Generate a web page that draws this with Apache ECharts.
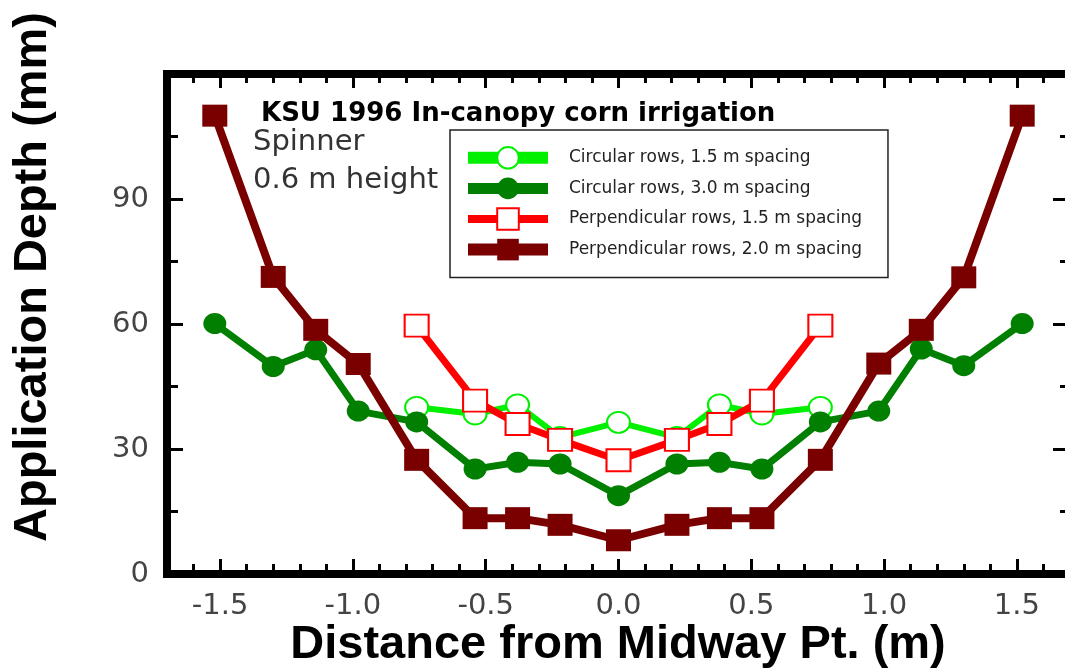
<!DOCTYPE html>
<html>
<head>
<meta charset="utf-8">
<title>KSU 1996 In-canopy corn irrigation</title>
<script src="https://cdn.jsdelivr.net/npm/echarts@6/dist/echarts.min.js"></script>
<style>
html, body { margin: 0; padding: 0; background: #fff; }
#chart { width: 1065px; height: 670px; }
</style>
</head>
<body>
<div id="chart"></div>
<script>
// distances (m) where depth was measured
var distAll = [-1.52, -1.30, -1.14, -0.98, -0.76, -0.54, -0.38, -0.22, 0, 0.22, 0.38, 0.54, 0.76, 0.98, 1.14, 1.30, 1.52];
var distInner = [-0.76, -0.54, -0.38, -0.22, 0, 0.22, 0.38, 0.54, 0.76];

// application depth (mm)
var circ15 = [40.0, 38.4, 40.6, 32.8, 36.4, 32.8, 40.6, 38.4, 40.0];
var circ30 = [60.1, 49.8, 53.8, 39.1, 36.5, 25.2, 26.8, 26.4, 18.8, 26.4, 26.8, 25.2, 36.5, 39.1, 54.0, 50.0, 60.1];
var perp15 = [59.6, 41.6, 36.0, 32.2, 27.3, 32.2, 36.0, 41.6, 59.6];
var perp20 = [110.0, 71.3, 58.6, 50.4, 27.4, 13.4, 13.4, 11.8, 8.1, 11.8, 13.4, 13.4, 27.4, 50.5, 58.6, 71.2, 110.0];

var seriesNames = [
	'Circular rows, 1.5 m spacing',
	'Circular rows, 3.0 m spacing',
	'Perpendicular rows, 1.5 m spacing',
	'Perpendicular rows, 2.0 m spacing'
];
var colors = ['#00f000', '#007f00', '#ff0000', '#7a0000'];

// axis ticks
var xMajor = [-1.5, -1.0, -0.5, 0.0, 0.5, 1.0, 1.5];
var xMinor = [];
for (var i = -16; i <= 16; i++) {
	if (i % 5 != 0) xMinor.push(i / 10);
}
var yLabels = [0, 30, 60, 90];

function pairs(xs, ys) {
	var out = [];
	for (var i = 0; i < xs.length; i++) out.push([xs[i], ys[i]]);
	return out;
}

var chart = echarts.init(document.getElementById('chart'));

var frame = { show: true, onZero: false, lineStyle: { color: '#000', width: 8, cap: 'square' } };
var noLine = { show: false, onZero: false };
var tickStyle = { color: '#000', width: 3 };
var labelFont = { fontFamily: 'DejaVu Sans', fontSize: 29, color: '#444' };
var nameFont = { fontFamily: 'Liberation Sans', fontWeight: 'bold', fontSize: 47, fill: '#000' };

function xAxisDef(pos, line, ticks, len, labels) {
	return {
		type: 'value', position: pos, min: -1.7, max: 1.7,
		axisLine: line ? frame : noLine,
		splitLine: { show: false },
		axisTick: { show: true, inside: true, length: len, lineStyle: tickStyle, customValues: ticks },
		axisLabel: labels ? Object.assign({ show: true, customValues: xMajor, margin: 18,
			formatter: function (v) { return v.toFixed(1); } }, labelFont) : { show: false }
	};
}
function yAxisDef(pos, len, minorLen, labels) {
	return {
		type: 'value', position: pos, min: 0, max: 120, interval: 30,
		axisLine: frame,
		splitLine: { show: false },
		axisTick: { show: true, inside: true, length: len, lineStyle: tickStyle },
		minorTick: { show: true, splitNumber: 2, length: minorLen, lineStyle: tickStyle },
		minorSplitLine: { show: false },
		axisLabel: labels ? Object.assign({ show: true, customValues: yLabels, margin: 18 }, labelFont) : { show: false }
	};
}

var legendData = [];
var legendWidths = [12, 11, 8, 12];
for (var k = 0; k < seriesNames.length; k++) {
	legendData.push({ name: seriesNames[k], lineStyle: { width: legendWidths[k] } });
}

var option = {
	animation: false,
	backgroundColor: '#fff',
	title: [{
		text: 'KSU 1996 In-canopy corn irrigation',
		left: 256, top: 96,
		textStyle: { fontFamily: 'DejaVu Sans', fontWeight: 'bold', fontSize: 26, color: '#000' }
	}, {
		text: 'Spinner',
		left: 248, top: 123,
		textStyle: { fontFamily: 'DejaVu Sans', fontWeight: 'normal', fontSize: 29, color: '#333' }
	}, {
		text: '0.6 m height',
		left: 248, top: 161,
		textStyle: { fontFamily: 'DejaVu Sans', fontWeight: 'normal', fontSize: 29, color: '#333' }
	}],
	grid: { left: 167, right: -5, top: 74, bottom: 96, containLabel: false, outerBoundsMode: 'none' },
	legend: {
		data: legendData,
		orient: 'vertical',
		left: 450, top: 130,
		padding: [16, 26, 17, 12],
		itemWidth: 80, itemHeight: 27, itemGap: 8,
		borderColor: '#222', borderWidth: 1.5,
		backgroundColor: '#fff',
		textStyle: { fontFamily: 'DejaVu Sans', fontSize: 17, color: '#222', padding: [0, 0, 0, 16] }
	},
	graphic: [{
		type: 'text',
		x: 33, y: 277, rotation: Math.PI / 2,
		style: Object.assign({ text: 'Application Depth (mm)', align: 'center', verticalAlign: 'middle' }, nameFont)
	}, {
		type: 'text',
		x: 618, y: 645,
		style: Object.assign({ text: 'Distance from Midway Pt. (m)', align: 'center', verticalAlign: 'middle' }, nameFont)
	}],
	xAxis: [
		xAxisDef('bottom', true, xMajor, 15, true),
		xAxisDef('bottom', false, xMinor, 10, false),
		xAxisDef('top', true, xMajor, 14, false),
		xAxisDef('top', false, xMinor, 9, false)
	],
	yAxis: [
		yAxisDef('left', 16, 11, true),
		yAxisDef('right', 17, 10, false)
	],
	series: [{
		name: seriesNames[0], type: 'line',
		data: pairs(distInner, circ15),
		symbol: 'emptyCircle', symbolSize: [23, 21],
		lineStyle: { color: colors[0], width: 6 },
		itemStyle: { color: colors[0], borderWidth: 2 },
		z: 2
	}, {
		name: seriesNames[1], type: 'line',
		data: pairs(distAll, circ30),
		symbol: 'circle', symbolSize: [23, 21],
		lineStyle: { color: colors[1], width: 7 },
		itemStyle: { color: colors[1] },
		z: 3
	}, {
		name: seriesNames[2], type: 'line',
		data: pairs(distInner, perp15),
		symbol: 'emptyRect', symbolSize: [24, 22],
		lineStyle: { color: colors[2], width: 7 },
		itemStyle: { color: colors[2], borderWidth: 2 },
		z: 4
	}, {
		name: seriesNames[3], type: 'line',
		data: pairs(distAll, perp20),
		symbol: 'rect', symbolSize: [25, 22],
		lineStyle: { color: colors[3], width: 8 },
		itemStyle: { color: colors[3] },
		z: 5
	}]
};

chart.setOption(option);
</script>
</body>
</html>
